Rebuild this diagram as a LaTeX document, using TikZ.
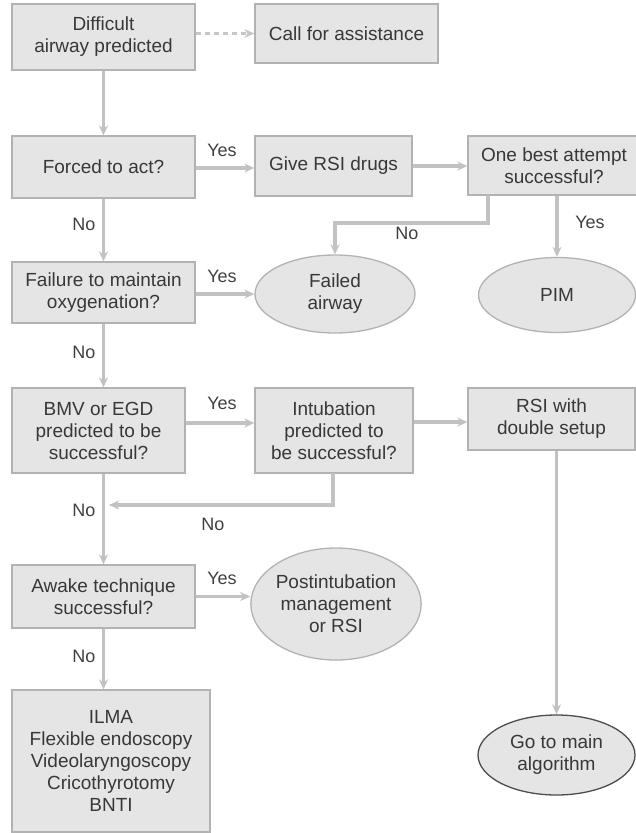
\documentclass[tikz,border=0pt]{standalone}
\usepackage{fontspec}
\setmainfont{Liberation Sans}
\usetikzlibrary{arrows.meta,shapes.geometric}
\begin{document}
\begin{tikzpicture}[x=1pt,y=-1pt,
  box/.style={draw=black!30, fill=black!10, line width=1.3pt, text=black!78, align=center, inner sep=0pt, font=\fontsize{19}{22}\selectfont},
  oval/.style={box, ellipse},
  conn/.style={draw=black!24, line width=3.5pt, -{Stealth[length=10pt,width=9pt]}},
  lab/.style={text=black!75, font=\fontsize{18}{20}\selectfont, inner sep=0pt}]
\useasboundingbox (0,0) rectangle (635,833);
% boxes
\node[box, minimum width=183pt, minimum height=66pt] (diff) at (103.5,37) {Difficult\\airway predicted};
\node[box, minimum width=183pt, minimum height=59pt] (call) at (346.5,33.5) {Call for assistance};
\node[box, minimum width=183pt, minimum height=62pt] (forced) at (103.5,167) {Forced to act?};
\node[box, minimum width=157pt, minimum height=60pt] (give) at (333.5,166) {Give RSI drugs};
\node[box, minimum width=172pt, minimum height=59pt] (best) at (554,165.5) {One best attempt\\successful?};
\node[box, minimum width=183pt, minimum height=61pt] (failure) at (103.5,292.5) {Failure to maintain\\oxygenation?};
\node[oval, minimum width=160pt, minimum height=78pt] (failed) at (335,294) {Failed\\airway};
\node[oval, minimum width=157pt, minimum height=75pt] (pim) at (557,295) {PIM};
\node[box, minimum width=173pt, minimum height=85pt] (bmv) at (98.5,430.5) {BMV or EGD\\predicted to be\\successful?};
\node[box, minimum width=158pt, minimum height=85pt] (intub) at (334,430.5) {Intubation\\predicted to\\be successful?};
\node[box, minimum width=167pt, minimum height=62pt] (rsi) at (551.5,419) {RSI with\\double setup};
\node[box, minimum width=183pt, minimum height=63pt] (awake) at (103.5,596.5) {Awake technique\\successful?};
\node[oval, minimum width=162pt, minimum height=112pt] (post) at (336,604) {Postintubation\\management\\or RSI};
\node[box, minimum width=198pt, minimum height=142pt] (ilma) at (111,761) {ILMA\\Flexible endoscopy\\Videolaryngoscopy\\Cricothyrotomy\\BNTI};
\node[oval, draw=black!70, minimum width=157pt, minimum height=80pt] (go) at (556.5,755) {Go to main\\algorithm};
% helper coordinates
\coordinate (bestNo) at (488,195);
\coordinate (bestBend) at (488,223);
\coordinate (intNo) at (333,473);
\coordinate (intBend) at (333,505);
\coordinate (mainX) at (103.5,0);
% connectors
\draw[draw=black!22, line width=3pt, dash pattern=on 5pt off 4pt, -{Stealth[length=10pt,width=9pt]}] (diff.east |- call) -- (call.west);
\draw[conn] (diff.south) -- (forced.north);
\draw[conn] (forced.east |- 0,168) -- (give.west |- 0,168);
\draw[conn] (give.east) -- (best.west |- give.east);
\draw[conn] (best.south -| pim) -- (pim.north);
\draw[conn] (bestNo) -- (bestBend) -- (bestBend -| failed) -- (failed.north);
\draw[conn] (forced.south) -- (failure.north);
\draw[conn] (failure.east |- failed) -- (failed.west);
\draw[conn] (failure.south) -- (failure.south |- bmv.north);
\draw[conn] (bmv.east |- 0,423) -- (intub.west |- 0,423);
\draw[conn] (intub.east |- 0,422) -- (rsi.west |- 0,422);
\draw[conn] (intNo) -- (intBend) -- (intBend -| 109,0);
\draw[conn] (mainX |- bmv.south) -- (mainX |- awake.north);
\draw[conn] (awake.east) -- (awake.east -| post.west);
\draw[conn] (awake.south) -- (awake.south |- ilma.north);
\draw[conn] (rsi.south -| go) -- (go.north);
% labels
\node[lab] (y1) at (222,150) {Yes};
\node[lab] (y2) at (590,222) {Yes};
\node[lab] (n1) at (407,233) {No};
\node[lab] (n2) at (84,224) {No};
\node[lab] (y3) at (222,276) {Yes};
\node[lab] (n3) at (84,352) {No};
\node[lab] (y4) at (222,403) {Yes};
\node[lab] (n4) at (84,510) {No};
\node[lab] (n5) at (213,524) {No};
\node[lab] (y5) at (222,578) {Yes};
\node[lab] (n6) at (84,656) {No};
\end{tikzpicture}
\end{document}
